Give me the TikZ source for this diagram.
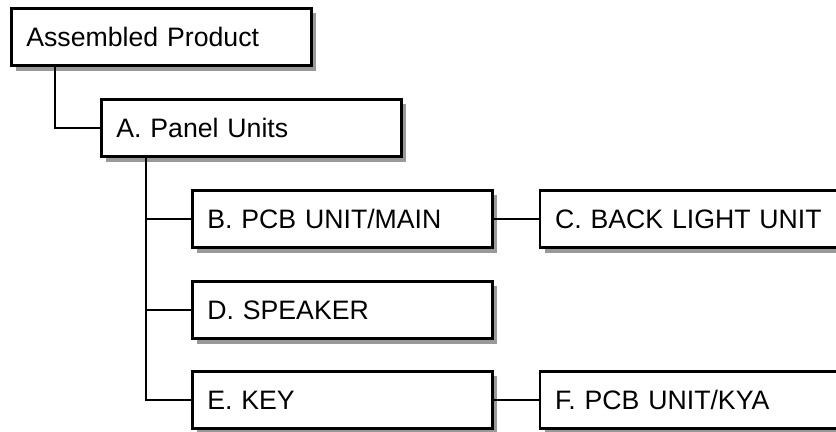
\documentclass[tikz,border=0pt]{standalone}
\usepackage{fontspec}
\setmainfont{Liberation Sans}
\usepackage{tikz}
\usetikzlibrary{positioning, shadows, calc}
\tikzstyle{part} = [rectangle, draw=black, line width=2pt, fill=white, outer sep=0pt, text width=202.5pt, align=left, inner xsep=11.25pt, minimum height=43pt, text height=14.3pt, text depth=0pt, font=\fontsize{20}{24}\selectfont, drop shadow={fill=black!40, opacity=1, shadow xshift=3.75pt, shadow yshift=-3.75pt}]
\tikzstyle{link} = [line width=1.5pt]

\begin{document}
\begin{tikzpicture}
    \useasboundingbox (-8.5pt,6.25pt) rectangle (618.5pt,-317.75pt);
    \node (root) [part, anchor=north west] at (0,0) {Assembled Product};
    \node (panel) [part, below right=25.25pt and 67.5pt of root.south west] {A. Panel Units};
    \node (pcb) [part, below right=25.25pt and 68.25pt of panel.south west] {B. PCB UNIT/MAIN};
    \node (speaker) [part, below=25.25pt of pcb] {D. SPEAKER};
    \node (key) [part, below=24.5pt of speaker] {E. KEY};
    \node (backlight) [part, right=35.75pt of pcb] {C. BACK LIGHT UNIT};
    \node (kya) [part, right=35.75pt of key] {F. PCB UNIT/KYA};

    \draw [link] ($(root.south west)+(32.75pt,0)$) |- (panel.west);
    \foreach \n in {pcb, speaker, key}
        \draw [link] ($(panel.south west)+(33.5pt,0)$) |- (\n.west);
    \draw [link] (pcb) -- (backlight);
    \draw [link] (key) -- (kya);
\end{tikzpicture}
\end{document}
